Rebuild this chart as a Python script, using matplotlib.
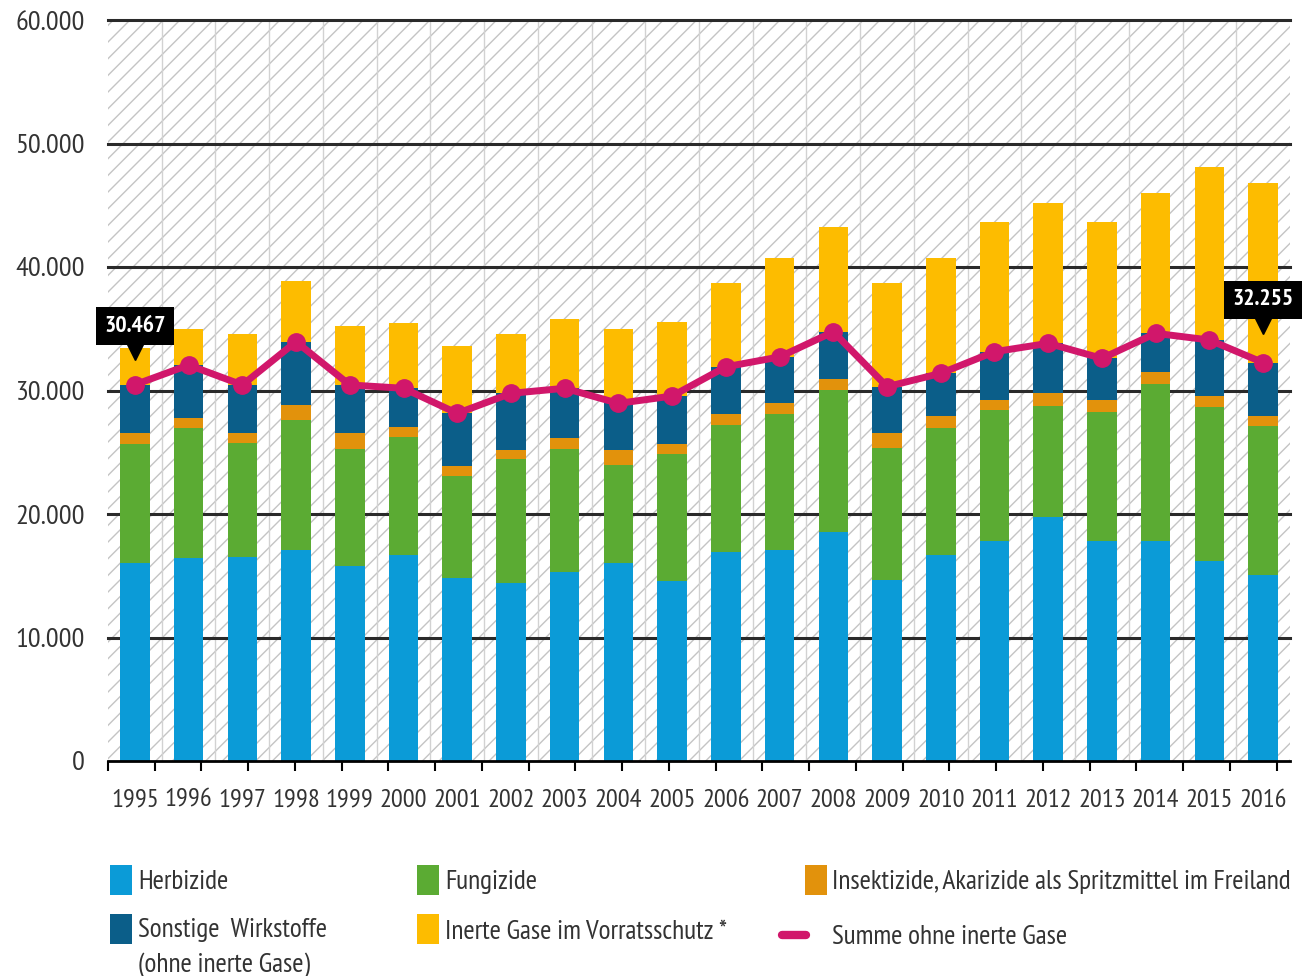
import matplotlib
matplotlib.use("Agg")
import matplotlib.pyplot as plt
from matplotlib import font_manager as fm
from matplotlib.patches import Rectangle
from matplotlib.lines import Line2D
import numpy as np

_avail = {f.name for f in fm.fontManager.ttflist}
_font = 'DejaVu Sans'
for cand in ['PT Sans Narrow', 'Fira Sans Condensed', 'Roboto Condensed', 'Archivo Narrow',
             'IBM Plex Sans Condensed', 'Open Sans Condensed']:
    if cand in _avail:
        _font = cand
        break
plt.rcParams['font.family'] = [_font, 'DejaVu Sans']

years = ['1995', '1996', '1997', '1998', '1999', '2000', '2001', '2002', '2003', '2004', '2005',
         '2006', '2007', '2008', '2009', '2010', '2011', '2012', '2013', '2014', '2015', '2016']

herbizide = [16000, 16400, 16500, 17090, 15790, 16680, 14790, 14390, 15330, 16000, 14600,
             16960, 17090, 18570, 14660, 16680, 17840, 19730, 17840, 17840, 16220, 15060]
fungizide = [9670, 10600, 9270, 10520, 9510, 9580, 8290, 10040, 9970, 7970, 10260,
             10250, 11010, 11470, 10660, 10250, 10580, 9020, 10430, 12690, 12470, 12070]
insektizide = [860, 740, 760, 1220, 1230, 810, 810, 750, 830, 1210, 810,
               890, 910, 860, 1210, 1010, 810, 1020, 960, 990, 860, 810]
sonstige = [3937, 4320, 3920, 5120, 3920, 3110, 4260, 4590, 4050, 3780, 3880,
            3820, 3710, 3850, 3780, 3450, 3910, 4050, 3370, 3110, 4540, 4315]
inerte_gase = [2970, 2890, 4120, 4920, 4770, 5310, 5450, 4800, 5580, 5990, 6020,
               6760, 8010, 8490, 8370, 9340, 10530, 11390, 11070, 11340, 14010, 14575]

y_ticks = [0, 10000, 20000, 30000, 40000, 50000, 60000]
y_ticklabels = ['0', '10.000', '20.000', '30.000', '40.000', '50.000', '60.000']

series_names = ['Herbizide', 'Fungizide', 'Insektizide, Akarizide als Spritzmittel im Freiland',
                'Sonstige  Wirkstoffe', 'Inerte Gase im Vorratsschutz *', 'Summe ohne inerte Gase']

c_herb = '#0b9bd7'
c_fung = '#5bab33'
c_ins = '#e2920c'
c_sonst = '#0b5e89'
c_inert = '#fdbc00'
c_line = '#d1176b'
txt = '#333333'

fig = plt.figure(figsize=(13.05, 9.76), dpi=100)
ax = fig.add_axes([108/1305, 1 - 761/976, (1290-108)/1305, (761-20)/976])

x = np.arange(len(years))
n = len(years)
ax.set_xlim(-0.5, n - 0.5)
ax.set_ylim(0, 60000)

# hatched background
ax.patch.set_visible(False)
bg = Rectangle((0, 0), 1, 1, transform=ax.transAxes, facecolor='white', edgecolor='#c4c4c4',
               hatch='//', linewidth=0, zorder=0)
ax.add_patch(bg)
for b in np.arange(0.5, n - 0.5, 1):
    ax.axvline(b, color='#d2d2d2', lw=1.0, zorder=0.5)
for t in y_ticks[1:]:
    ax.axhline(t, color='#2a2a2a', lw=2.2, zorder=1, clip_on=False)

w = 0.55
bottom = np.zeros(n)
for vals, col in [(herbizide, c_herb), (fungizide, c_fung), (insektizide, c_ins),
                  (sonstige, c_sonst), (inerte_gase, c_inert)]:
    v = np.array(vals, dtype=float)
    ax.bar(x, v, w, bottom=bottom, color=col, zorder=2, linewidth=0)
    bottom += v

summe = np.array(herbizide) + np.array(fungizide) + np.array(insektizide) + np.array(sonstige)
ax.plot(x, summe, color=c_line, lw=5, marker='o', markersize=12.5, zorder=4)

# annotations
for i, yb, ytri in [(0, 35220, 33150), (n - 1, 37330, 35250)]:
    label = f"{summe[i]/1000:.3f}"
    ax.text(x[i], yb, label, ha='center', va='center', color='white', fontsize=17,
            fontweight='bold', zorder=6, clip_on=False,
            bbox=dict(boxstyle='square,pad=0.35', fc='black', ec='none'))
    ax.plot([x[i]], [ytri], marker='v', color='black', markersize=11, zorder=5, clip_on=False)

# axes styling
for s in ['top', 'right', 'left']:
    ax.spines[s].set_visible(False)
ax.spines['bottom'].set_color('black')
ax.spines['bottom'].set_linewidth(2)
ax.spines['bottom'].set_zorder(3)
ax.set_yticks(y_ticks)
ax.set_yticklabels(y_ticklabels, fontsize=20.5, color=txt)
ax.tick_params(axis='y', length=0, pad=16.5)
ax.set_xticks(x)
ax.set_xticklabels(years, fontsize=19, color=txt)
ax.tick_params(axis='x', length=0, pad=20)
ax.set_xticks(np.arange(-0.5, n - 0.4, 0.87), minor=True)
ax.tick_params(axis='x', which='minor', length=7, width=1.5, color='black')

# legend (manual)
def legpatch(x0, y0, col):
    fig.add_artist(Rectangle((x0/1305, 1 - (y0+30)/976), 22/1305, 30/976,
                             transform=fig.transFigure, facecolor=col, edgecolor='none'))

def legtext(x0, y0, s):
    fig.text(x0/1305, 1 - y0/976, s, ha='left', va='center', fontsize=19.7, color=txt)

legpatch(110, 865, c_herb); legtext(138, 882, series_names[0])
legpatch(417, 865, c_fung); legtext(445, 882, series_names[1])
legpatch(805, 865, c_ins); legtext(832, 882, series_names[2])
legpatch(110, 914, c_sonst); legtext(138, 930, series_names[3]); legtext(138, 965, '(ohne inerte Gase)')
legpatch(417, 914, c_inert); legtext(445, 932, series_names[4])
fig.add_artist(Line2D([782/1305, 806/1305], [1 - 935/976, 1 - 935/976], color=c_line, lw=6,
                      solid_capstyle='round', transform=fig.transFigure))
legtext(832, 937, series_names[5])

fig.savefig('out.png', dpi=100)
